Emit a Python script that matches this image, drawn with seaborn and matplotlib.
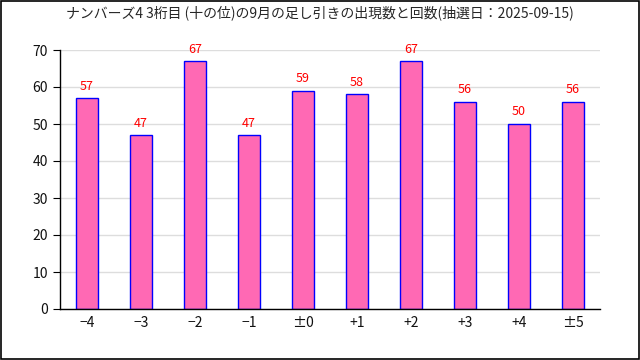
import matplotlib
matplotlib.use("Agg")
import matplotlib.pyplot as plt
import seaborn as sns
import numpy as np
import pandas as pd

labels = ["\u22124", "\u22123", "\u22122", "\u22121", "\u00b10", "+1", "+2", "+3", "+4", "\u00b15"]
counts = [57, 47, 67, 47, 59, 58, 67, 56, 50, 56]
title = "ナンバーズ4 3桁目 (十の位)の9月の足し引きの出現数と回数(抽選日：2025-09-15)"

sns.set_style("white")
plt.rcParams['font.family'] = ['Noto Sans CJK JP', 'DejaVu Sans']

df = pd.DataFrame({"diff": labels, "count": counts})

fig = plt.figure(figsize=(6.4, 3.6), dpi=100)
ax = fig.add_axes([60 / 640, 51 / 360, 540 / 640, 259 / 360])

sns.barplot(data=df, x="diff", y="count", order=labels, color="#ff69b4",
            saturation=1, width=0.42, edgecolor="blue", linewidth=1, ax=ax)

for i, v in enumerate(counts):
    ax.text(i, v + 1.5, str(v), color="red", ha="center", va="bottom",
            fontsize=9, clip_on=False)

ax.set_ylim(0, 70)
ax.set_xlim(-0.5, len(labels) - 0.5)
ax.set_yticks(range(0, 71, 10))
ax.yaxis.grid(True, color="#dddddd", linewidth=1)
ax.set_axisbelow(True)
ax.set_xlabel("")
ax.set_ylabel("")

for s in ["top", "right"]:
    ax.spines[s].set_visible(False)
for s in ["left", "bottom"]:
    ax.spines[s].set_color("black")
    ax.spines[s].set_linewidth(1)

ax.set_xticks(np.arange(-0.5, len(labels), 1), minor=True)
ax.tick_params(axis="x", which="major", length=0, labelsize=10, pad=5, labelcolor="#111111")
ax.tick_params(axis="x", which="minor", length=5, direction="in", color="black")
ax.tick_params(axis="y", which="major", length=5, direction="out", color="black",
               labelsize=10, left=True, labelcolor="#111111")

fig.suptitle(title, fontsize=10, y=0.985)

# outer frame
fig.patches.append(plt.Rectangle((0.001, 0.002), 0.997, 0.996, transform=fig.transFigure,
                                 fill=False, edgecolor="black", linewidth=1.2))

fig.savefig("out.png", dpi=100)
